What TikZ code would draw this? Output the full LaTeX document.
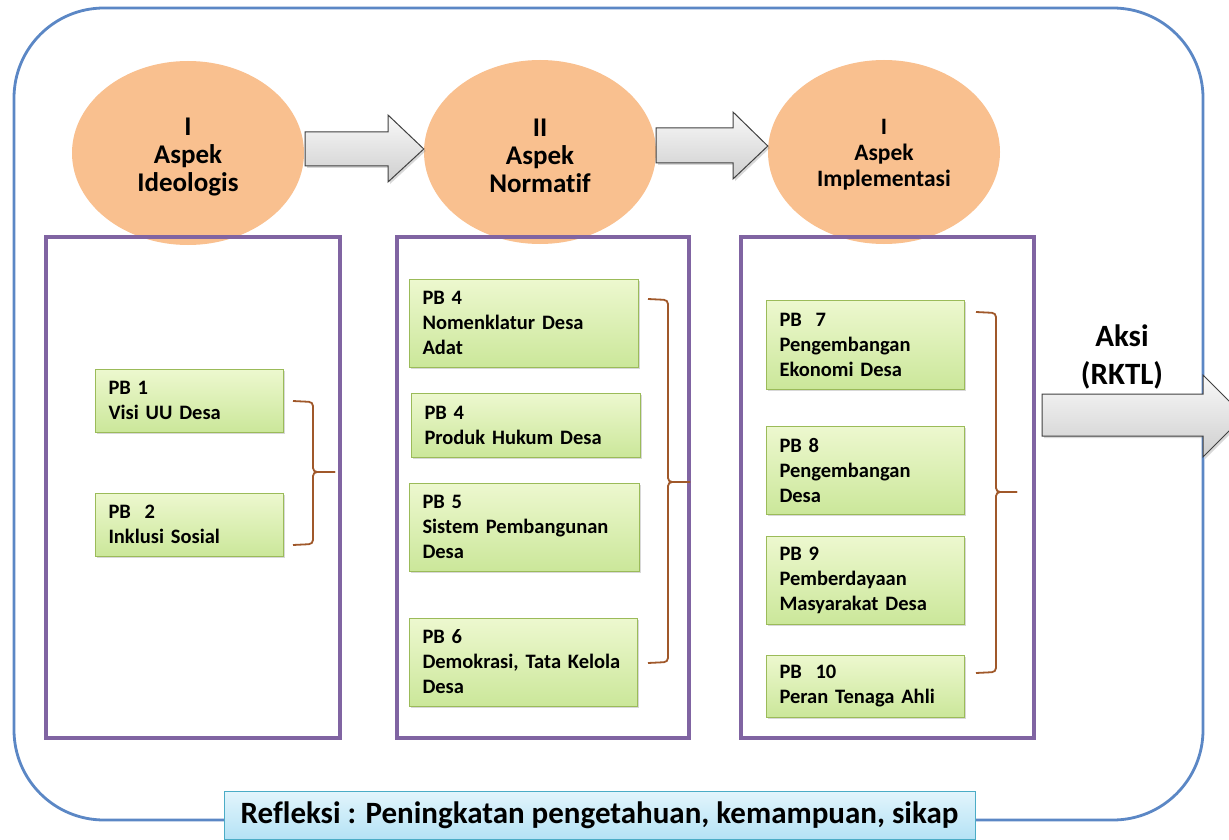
\documentclass[tikz,border=0pt]{standalone}
\usepackage{fontspec}
\setmainfont{Carlito}[Ligatures=NoCommon]
\usetikzlibrary{shapes.geometric,shadows,calc}
\definecolor{outerblue}{HTML}{5B87C5}
\definecolor{purp}{HTML}{8064A2}
\definecolor{peach}{HTML}{F9C08F}
\definecolor{pbborder}{HTML}{9BBB59}
\definecolor{pbtop}{HTML}{EDF8CF}
\definecolor{pbbot}{HTML}{CBE79A}
\definecolor{bracecol}{HTML}{A0582A}
\definecolor{refborder}{HTML}{4BACC6}
\definecolor{reftop}{HTML}{E3F5FC}
\definecolor{refbot}{HTML}{B4E2F5}
\begin{document}
\begin{tikzpicture}[x=1pt,y=-1pt,
  aspect/.style={ellipse, fill=peach, minimum width=232pt, minimum height=184pt, inner sep=0pt},
  aspecttext/.style={align=center, inner sep=0pt, font=\fontsize{27}{28}\selectfont\bfseries},
  colbox/.style={draw=purp, line width=3.2pt},
  pb/.style={draw=pbborder, line width=1pt, top color=pbtop, bottom color=pbbot, align=left, inner xsep=13.5pt, inner ysep=0pt, font=\fontsize{20.5}{25}\selectfont\bfseries, drop shadow={opacity=0.3, shadow xshift=2pt, shadow yshift=-2pt}},
  blockarrow/.style={draw=black!75, line width=1pt, top color=gray!5, bottom color=gray!38, drop shadow={opacity=0.3, shadow xshift=2pt, shadow yshift=-2pt}},
  bracket/.style={draw=bracecol, line width=1.8pt, rounded corners=4pt},
  refl/.style={draw=refborder, line width=1pt, top color=reftop, bottom color=refbot, font=\fontsize{31}{34}\selectfont\bfseries, inner sep=0pt}
]
\useasboundingbox (0,0) rectangle (1229,840);
\clip (0,0) rectangle (1229,840);
\fill[white] (0,0) rectangle (1229,840);

% outer frame
\draw[outerblue, line width=2.8pt, rounded corners=90pt] (14,8) rectangle (1203,820);

% aspect circles
\node[aspect] (c1) at (188,153) {};
\node[aspecttext] (c1t) at ([yshift=-4pt]c1.center) {I\\Aspek\\Ideologis};
\node[aspect] (c2) at (540,152) {};
\node[aspecttext] (c2t) at ([yshift=-4pt]c2.center) {II\\Aspek\\Normatif};
\node[aspect] (c3) at (884,152) {};
\node[aspecttext, font=\fontsize{23.5}{26}\selectfont\bfseries] (c3t) at ([yshift=-3pt]c3.center) {I\\Aspek\\Implementasi};

% block arrows between circles
\draw[blockarrow] (305,132) -- (388,132) -- (388,115) -- (c2.west |- 0,149) -- (388,182) -- (388,166) -- (305,166) -- cycle;
\draw[blockarrow] (656,128) -- (733,128) -- (733,112) -- (c3.west |- 0,146) -- (733,179) -- (733,163) -- (656,163) -- cycle;

% column boxes
\draw[colbox] (46,237) rectangle (340,738);
\draw[colbox] (397,237) rectangle (689,738);
\draw[colbox] (741,237) rectangle (1034,738);

% column 1
\node[pb, text width=161pt, minimum height=63pt] (pb1) at (189,400.5) {PB 1\\Visi UU Desa};
\node[pb, text width=161pt, minimum height=63pt] (pb2) at (189,524.5) {PB~ 2\\Inklusi Sosial};

% column 2
\node[pb, text width=202pt, minimum height=88pt] (pb4a) at (523.5,323) {PB 4\\Nomenklatur Desa\\Adat};
\node[pb, text width=202pt, minimum height=64pt] (pb4b) at (525.5,425) {PB 4\\Produk Hukum Desa};
\node[pb, text width=203pt, minimum height=88pt] (pb5) at (524,527) {PB 5\\Sistem Pembangunan\\Desa};
\node[pb, text width=201pt, minimum height=88pt] (pb6) at (523,662) {PB 6\\Demokrasi, Tata Kelola\\Desa};

% column 3
\node[pb, text width=171pt, minimum height=89pt] (pb7) at (865,344.5) {PB~ 7\\Pengembangan\\Ekonomi Desa};
\node[pb, text width=171pt, minimum height=88pt] (pb8) at (865,470) {PB 8\\Pengembangan\\Desa};
\node[pb, text width=171pt, minimum height=88pt] (pb9) at (865,580) {PB 9\\Pemberdayaan\\Masyarakat Desa};
\node[pb, text width=171pt, minimum height=62pt] (pb10) at (865,686) {PB~ 10\\Peran Tenaga Ahli};

% brackets
\coordinate (b1t) at (293,401);
\coordinate (b1b) at (293,545);
\coordinate (b1p) at (335,472);
\draw[bracket] (b1t) -- (313,402) -- (313,472) -- (b1p);
\draw[bracket] (b1b) -- (313,544) -- (313,472) -- (b1p);
\coordinate (b2t) at (648,299);
\coordinate (b2b) at (648,663);
\coordinate (b2p) at (690,482);
\draw[bracket] (b2t) -- (668,300) -- (668,482) -- (b2p);
\draw[bracket] (b2b) -- (668,662) -- (668,482) -- (b2p);
\coordinate (b3t) at (976,312);
\coordinate (b3b) at (976,673);
\coordinate (b3p) at (1017,492);
\draw[bracket] (b3t) -- (996,313) -- (996,492) -- (b3p);
\draw[bracket] (b3b) -- (996,672) -- (996,492) -- (b3p);

% action arrow
\node[align=center, font=\fontsize{31}{38}\selectfont\bfseries] (aksi) at (1122,357) {Aksi\\(RKTL)};
\draw[blockarrow] (1042,394) -- (1203,394) -- (1203,375) -- (1244,416) -- (1203,457) -- (1203,436) -- (1042,436) -- cycle;

% reflection box
\node[refl, minimum width=751pt, minimum height=48pt] (refl) at (599.5,815) {Refleksi : Peningkatan pengetahuan, kemampuan, sikap};
\end{tikzpicture}
\end{document}
